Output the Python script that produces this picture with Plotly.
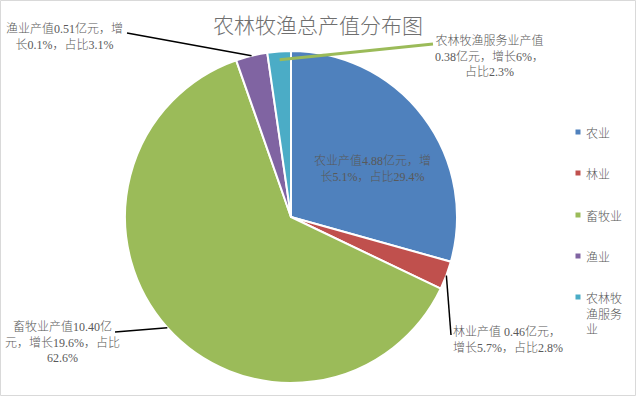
import math
import plotly.graph_objects as go

# ---- data ----
categories = ["农业", "林业", "畜牧业", "渔业", "农林牧渔服务业"]
legend_names = ["农业", "林业", "畜牧业", "渔业", "农林牧<br>渔服务<br>业"]
values = [4.88, 0.46, 10.40, 0.51, 0.38]
growth = ["5.1%", "5.7%", "19.6%", "0.1%", "6%"]
shares = ["29.4%", "2.8%", "62.6%", "3.1%", "2.3%"]
colors = ["#4F81BD", "#C0504D", "#9BBB59", "#8064A2", "#4BACC6"]
label_texts = [
    "农业产值4.88亿元，增<br>长5.1%，占比29.4%",
    "林业产值 0.46亿元，<br>增长5.7%，占比2.8%",
    "畜牧业产值10.40亿<br>元，增长19.6%，占比<br>62.6%",
    "渔业产值0.51亿元，增<br>长0.1%，占比3.1%",
    "农林牧渔服务业产值<br>0.38亿元，增长6%，<br>占比2.3%",
]
title_text = "农林牧渔总产值分布图"

# ---- layout geometry (pixels) ----
W, H = 637, 397
CX, CY, R = 291, 217, 166
FONT = "Liberation Serif, Noto Sans CJK SC, serif"
TFONT = "Noto Sans CJK SC, sans-serif"
GRAY = "#595959"


def px(x):
    return x / W


def py(y):
    return 1 - y / H


fig = go.Figure()
fig.add_trace(go.Pie(
    labels=categories,
    values=values,
    sort=False,
    direction="clockwise",
    rotation=0,
    textinfo="none",
    marker=dict(colors=colors, line=dict(color="white", width=2)),
    domain=dict(x=[px(CX - R), px(CX + R)], y=[py(CY + R), py(CY - R)]),
    showlegend=False,
    hoverinfo="label+value+percent",
))

# mid-angle points of slices on pie edge
total = sum(values)
cum = 0
mid_pts = []
for v in values:
    a = 2 * math.pi * (cum + v / 2) / total
    cum += v
    mid_pts.append(a)


def edge_point(a, rf=1.0):
    return CX + R * rf * math.sin(a), CY - R * rf * math.cos(a)


# label placements: (center x, center y, xanchor, align), leader end, leader color, radius factor
placements = [
    (372, 168.5, "center", "center", None, None, None),
    (451, 340, "left", "left", (451, 335), "#000000", 1.0),
    (62, 342.5, "center", "center", (115, 332), "#000000", 1.0),
    (64, 37, "center", "center", (127, 33), "#000000", 1.0),
    (489, 56.5, "center", "center", (433, 44), "#9BBB59", 0.95),
]

shapes = []
annotations = []
for i, (lx, ly, xa, al, end, lc, rf) in enumerate(placements):
    annotations.append(dict(
        x=px(lx), y=py(ly), xref="paper", yref="paper",
        text=label_texts[i], showarrow=False, xanchor=xa, yanchor="middle",
        align=al, font=dict(family=FONT, size=12, color=GRAY, weight=300),
    ))
    if end is not None:
        sx, sy = edge_point(mid_pts[i], rf)
        w = 3 if lc != "#000000" else 1.5
        shapes.append(dict(type="line", xref="paper", yref="paper",
                           x0=px(sx), y0=py(sy), x1=px(end[0]), y1=py(end[1]),
                           line=dict(color=lc, width=w)))

# legend drawn at right side
leg_y = [132, 173, 215, 256, 297]
for i, name in enumerate(legend_names):
    yc = leg_y[i]
    shapes.append(dict(type="rect", xref="paper", yref="paper",
                       x0=px(575.5), x1=px(580.5), y0=py(yc - 2.5), y1=py(yc + 2.5),
                       fillcolor=colors[i], line=dict(width=0)))
    nlines = name.count("<br>") + 1
    annotations.append(dict(
        x=px(584), y=py(yc + (nlines - 1) * 15.6 / 2), xref="paper", yref="paper",
        text=name, showarrow=False, xanchor="left", yanchor="middle", align="left",
        font=dict(family=TFONT, size=12, color=GRAY, weight=300),
    ))

# title
annotations.append(dict(
    x=px(318), y=py(24), xref="paper", yref="paper", text=title_text,
    showarrow=False, xanchor="center", yanchor="middle",
    font=dict(family=TFONT, size=21, color="#6f6f6f", weight=300),
))

# chart border
shapes.append(dict(type="rect", xref="paper", yref="paper",
                   x0=px(0.5), x1=px(635.5), y0=py(395.5), y1=py(0.5),
                   line=dict(color="#d9d9d9", width=1)))

fig.update_layout(
    width=W, height=H,
    margin=dict(l=0, r=0, t=0, b=0),
    paper_bgcolor="white", plot_bgcolor="white",
    shapes=shapes, annotations=annotations,
    showlegend=False,
)

fig.write_html("out.html")
